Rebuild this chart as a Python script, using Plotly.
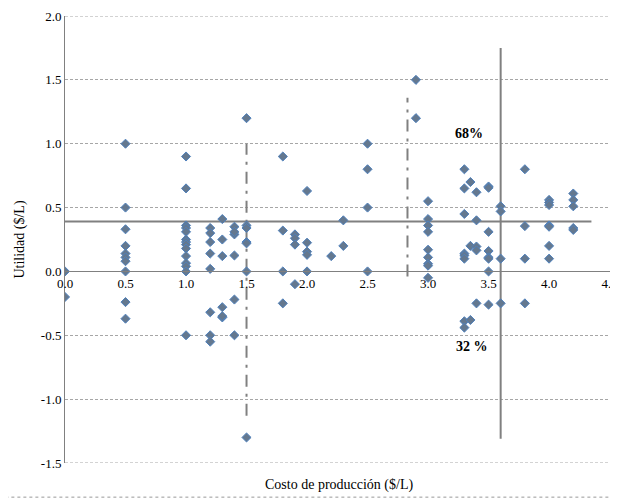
import plotly.graph_objects as go

# Data: (cost, profit) pairs
costo = (
    [0.0, 0.0]
    + [0.5] * 10
    + [1.0] * 14
    + [1.2] * 8
    + [1.3] * 6
    + [1.4] * 6
    + [1.5] * 7
    + [1.8] * 4
    + [1.9] * 4
    + [2.0] * 5
    + [2.2, 2.3, 2.3]
    + [2.5] * 4
    + [2.9, 2.9]
    + [3.0] * 9
    + [3.3] * 8
    + [3.35] * 3
    + [3.4] * 5
    + [3.5] * 8
    + [3.6] * 4
    + [3.8] * 4
    + [4.0] * 7
    + [4.2] * 5
)
utilidad = (
    [0.0, -0.2]
    + [1.0, 0.5, 0.33, 0.2, 0.14, 0.11, 0.08, 0.0, -0.24, -0.37]
    + [0.9, 0.65, 0.36, 0.34, 0.31, 0.25, 0.23, 0.21, 0.18, 0.12, 0.065, 0.04, 0.0, -0.5]
    + [0.34, 0.30, 0.23, 0.14, 0.02, -0.32, -0.5, -0.55]
    + [0.41, 0.25, 0.12, -0.28, -0.36, -0.35]
    + [0.35, 0.29, 0.125, -0.22, -0.5, 0.31]
    + [1.2, 0.36, 0.34, 0.23, 0.22, 0.0, -1.3]
    + [0.9, 0.32, 0.0, -0.25]
    + [0.29, 0.26, 0.21, -0.1]
    + [0.63, 0.225, 0.155, 0.13, 0.0]
    + [0.12, 0.40, 0.20]
    + [1.0, 0.8, 0.5, 0.0]
    + [1.5, 1.2]
    + [0.55, 0.41, 0.36, 0.31, 0.17, 0.11, 0.06, 0.045, -0.05]
    + [0.8, 0.65, 0.45, 0.14, 0.125, 0.10, -0.39, -0.44]
    + [0.70, 0.20, -0.38]
    + [0.62, 0.40, 0.195, 0.165, -0.25]
    + [0.665, 0.655, 0.31, 0.16, 0.11, 0.10, 0.0, -0.26]
    + [0.51, 0.47, 0.10, -0.25]
    + [0.8, 0.355, 0.10, -0.25]
    + [0.56, 0.54, 0.52, 0.36, 0.35, 0.20, 0.10]
    + [0.61, 0.56, 0.51, 0.34, 0.325]
)

# Reference lines
media_x = [0.0, 4.35]
media_y = [0.39, 0.39]
corte_x = [3.6, 3.6]
corte_y = [-1.31, 1.75]
dd1_x = [1.5, 1.5]
dd1_y = [-1.13, 1.0]
dd2_x = [2.83, 2.83]
dd2_y = [-0.04, 1.36]

x_ticks = [0.0, 0.5, 1.0, 1.5, 2.0, 2.5, 3.0, 3.5, 4.0, 4.5]
y_ticks = [-1.5, -1.0, -0.5, 0.0, 0.5, 1.0, 1.5, 2.0]

FONT = "Liberation Serif"
GRAY = "#808080"
GRID = "#a6a6a6"

fig = go.Figure()
line_style = dict(color=GRAY, width=2)
fig.add_trace(go.Scatter(x=media_x, y=media_y, mode="lines", line=line_style, hoverinfo="skip"))
fig.add_trace(go.Scatter(x=corte_x, y=corte_y, mode="lines", line=line_style, hoverinfo="skip"))
fig.add_trace(go.Scatter(x=dd1_x, y=dd1_y, mode="lines",
                         line=dict(color=GRAY, width=2, dash="12px,7px,3px,7px"), hoverinfo="skip"))
fig.add_trace(go.Scatter(x=dd2_x, y=dd2_y, mode="lines",
                         line=dict(color=GRAY, width=2, dash="12px,7px,3px,7px"), hoverinfo="skip"))
fig.add_trace(go.Scatter(
    x=costo, y=utilidad, mode="markers",
    marker=dict(symbol="diamond", size=7, color="#64788f",
                line=dict(color="#4f81bd", width=1)),
))

fig.add_annotation(x=3.34, y=1.08, text="<b>68%</b>", showarrow=False,
                   font=dict(family=FONT, size=14, color="black"))
fig.add_annotation(x=3.36, y=-0.59, text="<b>32 %</b>", showarrow=False,
                   font=dict(family=FONT, size=14, color="black"))
fig.add_annotation(x=0.5, y=-0.049, xref="paper", yref="paper",
                   text="Costo de producción ($/L)", showarrow=False,
                   yanchor="middle", font=dict(family=FONT, size=14, color="black"))

# grid lines at the range ends (plotly omits them at the edges)
for yv in (y_ticks[0], y_ticks[-1]):
    fig.add_shape(type="line", xref="paper", yref="y", x0=0, x1=1, y0=yv, y1=yv,
                  line=dict(color=GRID, width=1, dash="3px,2px"), layer="below")

# bottom dotted border
fig.add_shape(type="line", xref="paper", yref="paper", x0=-0.12, x1=1.02,
              y0=-0.0764, y1=-0.0764, line=dict(color="#999999", width=1, dash="dot"))

fig.update_layout(
    width=610, height=491,
    margin=dict(l=57, r=6, t=8, b=36, autoexpand=False),
    paper_bgcolor="white", plot_bgcolor="white",
    showlegend=False,
    font=dict(family=FONT, size=13, color="black"),
    xaxis=dict(
        range=[0, 4.52], tickvals=x_ticks, ticktext=[f"{v:.1f}" for v in x_ticks],
        showgrid=False, zeroline=False, showline=True, linecolor=GRAY, linewidth=1,
        anchor="free", position=1.5 / 3.5, ticks="", ticklen=0,
        automargin=False, ticklabeloverflow="allow",
    ),
    yaxis=dict(
        range=[-1.5, 2.0], tickvals=y_ticks, ticktext=[f"{v:.1f}" for v in y_ticks],
        showgrid=True, gridcolor=GRID, griddash="3px,2px", gridwidth=1,
        zeroline=False, showline=True, linecolor=GRAY, linewidth=1,
        ticks="", automargin=False, ticklabeloverflow="allow",
        title=dict(text="Utilidad ($/L)", font=dict(family=FONT, size=14), standoff=12),
    ),
)

fig.write_html("out.html")
